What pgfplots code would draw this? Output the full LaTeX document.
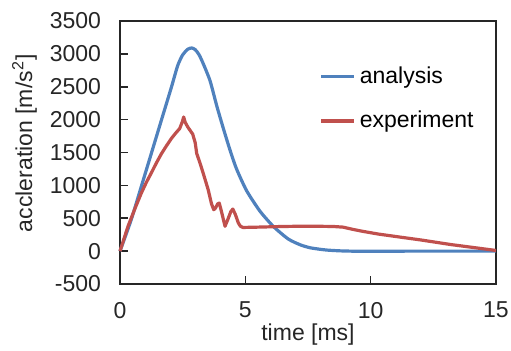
\documentclass[border=0pt]{standalone}
\usepackage{pgfplots}
\pgfplotsset{compat=1.18}
\usepackage{fontspec}
\setmainfont{Liberation Sans}
\definecolor{ablue}{HTML}{4F81BD}
\definecolor{ared}{HTML}{C0504D}
\begin{document}
\begin{tikzpicture}
\begin{axis}[
  scale only axis,
  width=188pt, height=131.5pt,
  xmin=0, xmax=15, ymin=-500, ymax=3500,
  xtick={0,5,10,15},
  ytick={-500,0,500,1000,1500,2000,2500,3000,3500},
  tick align=inside,
  xtick pos=bottom, ytick pos=left,
  major tick length=4pt,
  axis line style={line width=0.8pt, black!85},
  tick style={line width=0.8pt, black!85},
  /pgf/number format/assume math mode=true,
  /pgf/number format/1000 sep={},
  tick label style={font=\fontsize{11.5}{13.8}\selectfont, black!85},
  xticklabel style={yshift=-5.5pt},
  yticklabel style={xshift=-6pt},
  xlabel={time [ms]},
  ylabel={accleration [m/s\textsuperscript{2}]},
  label style={font=\fontsize{11.5}{13.8}\selectfont, black!85},
  xlabel style={at={(axis description cs:0.5,0)}, anchor=north, yshift=-16.5pt},
  ylabel style={at={(axis description cs:0,0.535)}, anchor=south, xshift=0pt, yshift=38pt},
  legend style={at={(axis description cs:0.53,0.705)}, anchor=west, draw=none, fill=none,
    font=\fontsize{11.5}{13.8}\selectfont, inner sep=0pt, row sep=8.5pt,
    /tikz/every even column/.append style={column sep=0pt}},
  legend cell align=left,
  legend image code/.code={\draw[#1] (0pt,0pt) -- (16.5pt,0pt);},
  clip=false,
]
\addplot[ablue, line width=1.6pt, line join=round, smooth, tension=0.4] coordinates {
(0,0) (0.45,480) (0.85,983) (1.25,1486) (1.65,1990) (2.05,2492) (2.3,2820)
(2.5,2985) (2.7,3070) (2.86,3090) (3.0,3065) (3.15,2990)
(3.3,2870) (3.59,2594) (3.86,2210) (4.12,1870) (4.39,1536) (4.65,1250)
(5.05,920) (5.58,610) (6.12,375) (6.71,185) (7.2,95) (7.6,50) (8.2,18)
(8.8,4) (9.5,-2) (10.5,-3) (11.5,0) (13,0) (15,0)
};
\addlegendentry{analysis}
\addplot[ared, line width=1.6pt, line join=round] coordinates {
(0,0) (0.32,378) (0.6,650) (0.85,882) (1.05,1045) (1.25,1190) (1.45,1340)
(1.65,1480) (1.85,1600) (2.05,1713) (2.2,1785) (2.38,1864)
(2.48,1960) (2.54,2040) (2.6,1960) (2.7,1890) (2.9,1780) (3.0,1650)
(3.06,1486) (3.2,1330) (3.32,1184) (3.52,932) (3.65,720) (3.74,630)
(3.8,650) (3.9,720) (3.96,731) (4.05,600) (4.19,378) (4.3,480) (4.42,600)
(4.5,640) (4.6,560) (4.72,430) (4.8,380) (4.9,360) (5.5,365) (6.5,375)
(7.5,380) (8.5,375) (8.9,365) (9.3,330) (9.7,300) (10.3,260) (11.2,212)
(12,170) (13.2,100) (14,60) (15,10)
};
\addlegendentry{experiment}
\end{axis}
\pgfresetboundingbox
\path[use as bounding box] (-60pt,-33pt) rectangle (195.5pt,142pt);
\end{tikzpicture}
\end{document}
